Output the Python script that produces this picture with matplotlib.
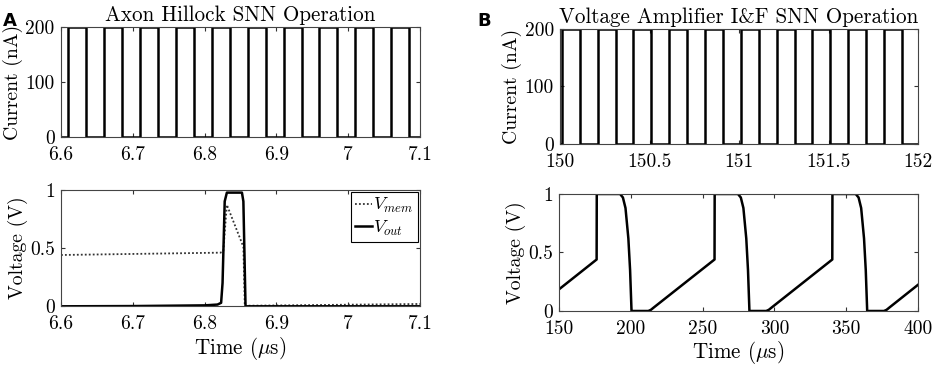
import matplotlib
matplotlib.use("Agg")
import matplotlib.pyplot as plt

plt.rcParams['font.family'] = 'serif'
plt.rcParams['font.serif'] = ['cmr10', 'DejaVu Serif']
plt.rcParams['mathtext.fontset'] = 'cm'
plt.rcParams['axes.unicode_minus'] = False

# ---------------------------------------------------------------
# Panel A data (Axon Hillock)
# ---------------------------------------------------------------
a_rise = [6.61, 6.66, 6.71, 6.76, 6.81, 6.86, 6.91, 6.96, 7.01, 7.06]
a_fall = [6.635, 6.685, 6.735, 6.785, 6.835, 6.885, 6.935, 6.985, 7.035, 7.085]
a_xlim = (6.6, 7.1)

a_vmem_t = [6.6, 6.822, 6.826, 6.831, 6.854, 6.856, 6.86, 7.1]
a_vmem_v = [0.44, 0.46, 0.47, 0.87, 0.51, 0.0, 0.005, 0.02]

a_vout_t = [6.6, 6.7, 6.8, 6.818, 6.823, 6.825, 6.828, 6.831, 6.852, 6.854, 6.857, 7.1]
a_vout_v = [0.0, 0.002, 0.008, 0.015, 0.03, 0.2, 0.9, 0.975, 0.975, 0.9, 0.0, 0.0]

# ---------------------------------------------------------------
# Panel B data (Voltage amplifier I&F)
# ---------------------------------------------------------------
b_rise = [150.01, 150.21, 150.41, 150.61, 150.81, 151.01, 151.21, 151.41, 151.61, 151.81]
b_fall = [150.11, 150.31, 150.51, 150.71, 150.91, 151.11, 151.31, 151.51, 151.71, 151.91]
b_xlim = (150, 152)

b_v_t = [150, 176.2, 176.3, 192.5, 194.5, 196.3, 198.3, 199.5, 200.5,
         212.2, 214.0, 216.0, 258.3, 258.4, 274.6, 276.6, 278.4, 280.4,
         281.6, 282.6, 294.3, 296.1, 298.1, 340.3, 340.4, 356.6, 358.6,
         360.4, 362.4, 363.6, 364.6, 376.3, 378.1, 380.1, 400]
b_v_v = [0.185, 0.44, 1.0, 1.0, 0.97, 0.88, 0.62, 0.35, 0.0,
         0.0, 0.01, 0.03, 0.44, 1.0, 1.0, 0.97, 0.88, 0.62,
         0.35, 0.0, 0.0, 0.01, 0.03, 0.44, 1.0, 1.0, 0.97,
         0.88, 0.62, 0.35, 0.0, 0.0, 0.01, 0.03, 0.224]


def square_wave(rise, fall, xlim, high=200.0):
    t = [xlim[0]]
    y = [0.0]
    for r, f in zip(rise, fall):
        t += [r, r, f, f]
        y += [0.0, high, high, 0.0]
    t.append(xlim[1])
    y.append(0.0)
    return t, y


FS_T = 15.2   # titles
FS_L = 14.2   # axis labels
FS_K = 14     # tick labels
LW = 1.8


def style(ax):
    ax.tick_params(direction='in', top=True, right=True, length=3,
                   width=0.8, labelsize=FS_K, color='#333333')
    ax.tick_params(axis='x', pad=6.5)
    ax.tick_params(axis='y', pad=4.5)
    for s in ax.spines.values():
        s.set_color('#444444')
        s.set_linewidth(0.8)


fig = plt.figure(figsize=(9.34, 3.66), dpi=100)

# ---- A top
ax1 = fig.add_axes([0.0653, 0.6257, 0.3844, 0.3005])
t, y = square_wave(a_rise, a_fall, a_xlim)
ax1.plot(t, y, color='black', lw=LW)
ax1.set_xlim(*a_xlim)
ax1.set_ylim(0, 200)
ax1.set_xticks([6.6, 6.7, 6.8, 6.9, 7.0, 7.1])
ax1.set_xticklabels(['6.6', '6.7', '6.8', '6.9', '7', '7.1'])
ax1.set_yticks([0, 100, 200])
ax1.set_yticklabels(['0', '100', '200'])
ax1.set_ylabel('Current (nA)', fontsize=FS_L, labelpad=1.5)
ax1.set_title('Axon Hillock SNN Operation', fontsize=FS_T, pad=4)
style(ax1)

# ---- A bottom
ax2 = fig.add_axes([0.0653, 0.1631, 0.3844, 0.3186])
ax2.plot(a_vmem_t, a_vmem_v, color='#333333', lw=1.3, ls=(0, (1, 1.2)),
         label='$V_{mem}$')
ax2.plot(a_vout_t, a_vout_v, color='black', lw=LW, label='$V_{out}$')
ax2.set_xlim(*a_xlim)
ax2.set_ylim(0, 1)
ax2.set_xticks([6.6, 6.7, 6.8, 6.9, 7.0, 7.1])
ax2.set_xticklabels(['6.6', '6.7', '6.8', '6.9', '7', '7.1'])
ax2.set_yticks([0, 0.5, 1])
ax2.set_yticklabels(['0', '0.5', '1'])
ax2.set_ylabel('Voltage (V)', fontsize=FS_L, labelpad=1.5)
ax2.set_xlabel(r'Time ($\mu$s)', fontsize=FS_T, labelpad=1)
leg = ax2.legend(loc='upper right', fontsize=13, handlelength=0.9,
                 handletextpad=0.1, borderpad=0.25, labelspacing=0.2,
                 fancybox=False, framealpha=1, borderaxespad=0.1)
leg.get_frame().set_edgecolor('black')
leg.get_frame().set_linewidth(0.8)
style(ax2)

# ---- B top
ax3 = fig.add_axes([0.5996, 0.6066, 0.3833, 0.3142])
t, y = square_wave(b_rise, b_fall, b_xlim)
ax3.plot(t, y, color='black', lw=LW)
ax3.set_xlim(*b_xlim)
ax3.set_ylim(0, 200)
ax3.set_xticks([150, 150.5, 151, 151.5, 152])
ax3.set_xticklabels(['150', '150.5', '151', '151.5', '152'])
ax3.set_yticks([0, 100, 200])
ax3.set_yticklabels(['0', '100', '200'])
ax3.set_ylabel('Current (nA)', fontsize=FS_L, labelpad=1.5)
ax3.set_title('Voltage Amplifier I&F SNN Operation', fontsize=FS_T, pad=4)
style(ax3)

# ---- B bottom
ax4 = fig.add_axes([0.5985, 0.1503, 0.3844, 0.3197])
ax4.plot(b_v_t, b_v_v, color='black', lw=LW)
ax4.set_xlim(150, 400)
ax4.set_ylim(0, 1)
ax4.set_xticks([150, 200, 250, 300, 350, 400])
ax4.set_xticklabels(['150', '200', '250', '300', '350', '400'])
ax4.set_yticks([0, 0.5, 1])
ax4.set_yticklabels(['0', '0.5', '1'])
ax4.set_ylabel('Voltage (V)', fontsize=FS_L, labelpad=1.5)
ax4.set_xlabel(r'Time ($\mu$s)', fontsize=FS_T, labelpad=1)
style(ax4)

# panel letters
fig.text(0.003, 0.968, 'A', fontsize=13, fontweight='bold',
         family='DejaVu Sans', va='top', ha='left')
fig.text(0.511, 0.966, 'B', fontsize=13, fontweight='bold',
         family='DejaVu Sans', va='top', ha='left')

fig.savefig('out.png', dpi=100, facecolor='white')
